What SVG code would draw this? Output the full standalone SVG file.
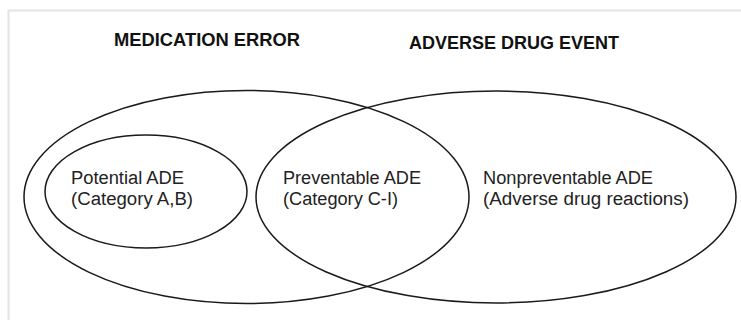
<svg xmlns="http://www.w3.org/2000/svg" width="741" height="320" viewBox="0 0 741 320">
<style>
.frame{fill:none;stroke:#e4e4e4;stroke-width:2}
.set{fill:none;stroke:#1a1a1a;stroke-width:1.5}
.title{font-family:"Liberation Sans",Arial,sans-serif;font-size:18px;font-weight:bold;fill:#111}
.lbl{font-family:"Liberation Sans",Arial,sans-serif;font-size:18px;fill:#222}
</style>
<rect width="741" height="320" fill="#fff"/>
<path class="frame" d="M8.5,320 V10.5 H741"/>
<g id="medication-error">
<ellipse class="set" cx="246.5" cy="197" rx="222.5" ry="106.5"/>
<text class="title" x="114" y="46" textLength="186" lengthAdjust="spacingAndGlyphs">MEDICATION ERROR</text>
</g>
<g id="adverse-drug-event">
<ellipse class="set" cx="496" cy="197" rx="240" ry="106"/>
<text class="title" x="409" y="49" textLength="210" lengthAdjust="spacingAndGlyphs">ADVERSE DRUG EVENT</text>
</g>
<g id="potential-ade">
<ellipse class="set" cx="146" cy="191.5" rx="101" ry="56.5"/>
<text class="lbl" x="71" y="184" textLength="113" lengthAdjust="spacingAndGlyphs">Potential ADE</text>
<text class="lbl" x="71" y="205" textLength="122" lengthAdjust="spacingAndGlyphs">(Category A,B)</text>
</g>
<g id="preventable-ade">
<text class="lbl" x="283" y="184" textLength="138" lengthAdjust="spacingAndGlyphs">Preventable ADE</text>
<text class="lbl" x="283" y="205" textLength="115" lengthAdjust="spacingAndGlyphs">(Category C-I)</text>
</g>
<g id="nonpreventable-ade">
<text class="lbl" x="483" y="184" textLength="170" lengthAdjust="spacingAndGlyphs">Nonpreventable ADE</text>
<text class="lbl" x="483" y="205" textLength="206" lengthAdjust="spacingAndGlyphs">(Adverse drug reactions)</text>
</g>
<g id="connectors"/>
</svg>
